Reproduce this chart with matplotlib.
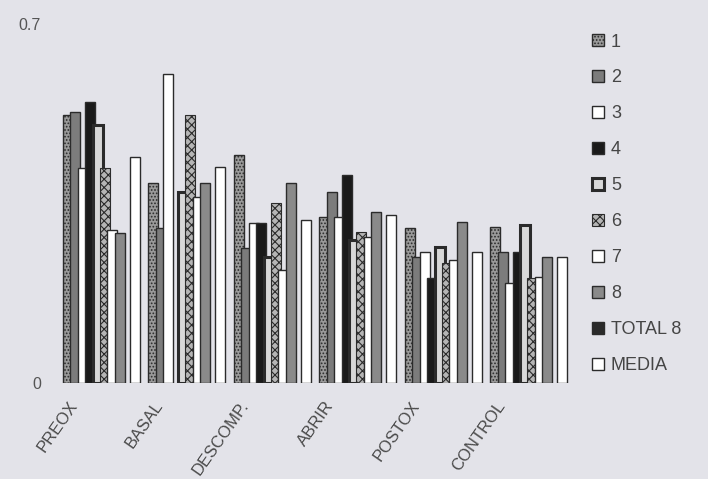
import numpy as np
import matplotlib
matplotlib.use("Agg")
import matplotlib.pyplot as plt
from matplotlib.transforms import ScaledTranslation

plt.rcParams['font.family'] = ['Liberation Sans', 'DejaVu Sans']
plt.rcParams['hatch.linewidth'] = 0.8

nan = np.nan

# stages on the x axis
categorias = ['PREOX', 'BASAL', 'DESCOMP.', 'ABRIR', 'POSTOX', 'CONTROL']

# one list per subject, plus total and mean
s1 = [0.523, 0.390, 0.445, 0.324, 0.302, 0.304]
s2 = [0.529, 0.302, 0.263, 0.372, 0.246, 0.256]
s3 = [0.419, 0.602, 0.312, 0.324, 0.256, 0.195]
s4 = [0.548, nan, 0.312, 0.406, 0.204, 0.256]
s5 = [0.503, 0.372, 0.246, 0.279, 0.265, 0.308]
s6 = [0.419, 0.522, 0.351, 0.294, 0.234, 0.204]
s7 = [0.298, 0.363, 0.220, 0.285, 0.240, 0.207]
s8 = [0.292, 0.390, 0.390, 0.333, 0.314, 0.246]
total8 = [nan, nan, nan, nan, nan, nan]
media = [0.440, 0.421, 0.318, 0.328, 0.256, 0.246]

series = [s1, s2, s3, s4, s5, s6, s7, s8, total8, media]
nombres = ['1', '2', '3', '4', '5', '6', '7', '8', 'TOTAL 8', 'MEDIA']

# fill, hatch, edge width for each series
estilos = [
    dict(facecolor='#9a9a9a', hatch='.....', lw=1.0),
    dict(facecolor='#7c7c7c', hatch=None, lw=1.0),
    dict(facecolor='white', hatch=None, lw=1.0),
    dict(facecolor='#1a1a1a', hatch=None, lw=1.0),
    dict(facecolor='#d8d8d8', hatch=None, lw=2.2),
    dict(facecolor='#b5b5b5', hatch='xxxx', lw=0.8),
    dict(facecolor='white', hatch=None, lw=1.0),
    dict(facecolor='#8a8a8a', hatch=None, lw=1.0),
    dict(facecolor='#2a2a2a', hatch=None, lw=1.0),
    dict(facecolor='white', hatch=None, lw=1.0),
]

fondo = '#e3e3e9'
fig = plt.figure(figsize=(7.08, 4.79), dpi=100, facecolor=fondo)
ax = fig.add_axes([0.0777, 0.2004, 0.7345, 0.7495], facecolor=fondo)

x = np.arange(len(categorias))
paso = 0.0866
ancho = 0.117

for k, (vals, nom, st) in enumerate(zip(series, nombres, estilos)):
    ax.bar(x + (k - 4.5) * paso, vals, width=ancho, label=nom,
           facecolor=st['facecolor'], hatch=st['hatch'],
           edgecolor='#2b2b2b', linewidth=st['lw'])

ax.set_xlim(-0.5415, 5.5415)
ax.set_ylim(0, 0.7)
for sp in ax.spines.values():
    sp.set_visible(False)

ax.set_yticks([0, 0.7])
ax.set_yticklabels(['0', '0.7'])
ax.tick_params(axis='y', length=0, pad=10, labelsize=11.5, labelcolor='#555555')

ax.set_xticks(x)
ax.set_xticklabels(categorias, rotation=55, ha='right', va='top',
                   rotation_mode='anchor', fontsize=12, color='#4a4a4a')
ax.tick_params(axis='x', length=0, pad=11)
desplaza = ScaledTranslation(-0.33, 0, fig.dpi_scale_trans)
for lab in ax.get_xticklabels():
    lab.set_transform(lab.get_transform() + desplaza)

fig.legend(loc='upper left', bbox_to_anchor=(0.836, 0.93), frameon=False,
           handlelength=0.65, handleheight=0.65, handletextpad=0.4,
           labelspacing=1.05, borderpad=0, borderaxespad=0,
           fontsize=13, labelcolor='#454545')

fig.savefig('out.png', dpi=100, facecolor=fondo)
